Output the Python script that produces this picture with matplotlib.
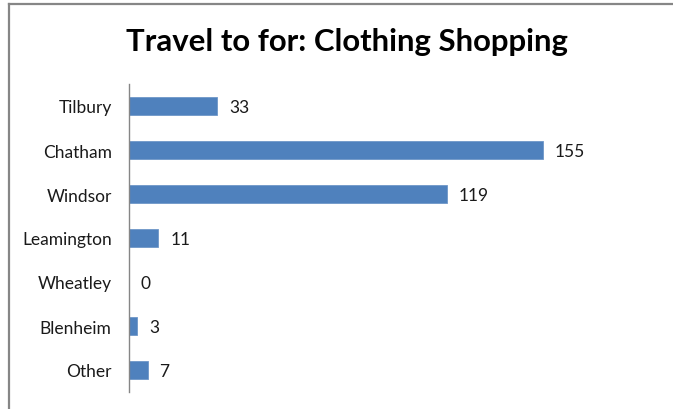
import matplotlib
matplotlib.use("Agg")
import matplotlib.pyplot as plt
from matplotlib.lines import Line2D

# destinations travelled to for clothing shopping
places = ['Tilbury', 'Chatham', 'Windsor', 'Leamington', 'Wheatley', 'Blenheim', 'Other']
counts = [33, 155, 119, 11, 0, 3, 7]

plt.rcParams['font.family'] = ['Lato', 'DejaVu Sans']

fig = plt.figure(figsize=(6.73, 4.10), dpi=100)
ax = fig.add_axes([129 / 673, 17 / 410, 481 / 673, 308 / 410])

y_pos = list(range(len(places)))
ax.barh(y_pos, counts, height=0.39, color='#4F81BD', edgecolor='#6F97C8', linewidth=0.6)

# value labels beside each bar
for y, v in zip(y_pos, counts):
    ax.annotate(str(v), (v, y), xytext=(8.5, -0.5), textcoords='offset points',
                va='center', ha='left', fontsize=12.5, color='#1a1a1a')

ax.set_xlim(0, 180)
ax.set_ylim(len(places) - 0.5, -0.5)
ax.set_yticks(y_pos)
ax.set_yticklabels(places, fontsize=12.5, color='#1a1a1a')
ax.tick_params(axis='y', length=0, pad=12.5)
ax.set_xticks([])

for side in ['top', 'right', 'bottom']:
    ax.spines[side].set_visible(False)
ax.spines['left'].set_color('#868686')
ax.spines['left'].set_linewidth(1.0)

fig.text(347 / 673, 1 - 42 / 410, 'Travel to for: Clothing Shopping',
         ha='center', va='center', fontsize=22.4, fontweight='bold', color='black')

# chart frame edges (top and left)
frame_color = '#868686'
fig.add_artist(Line2D([8.5 / 673, 1], [1 - 4.5 / 410, 1 - 4.5 / 410],
                      color=frame_color, linewidth=1.6, transform=fig.transFigure))
fig.add_artist(Line2D([8.5 / 673, 8.5 / 673], [0, 1 - 4.5 / 410],
                      color=frame_color, linewidth=1.6, transform=fig.transFigure))

fig.savefig('out.png', dpi=100)
